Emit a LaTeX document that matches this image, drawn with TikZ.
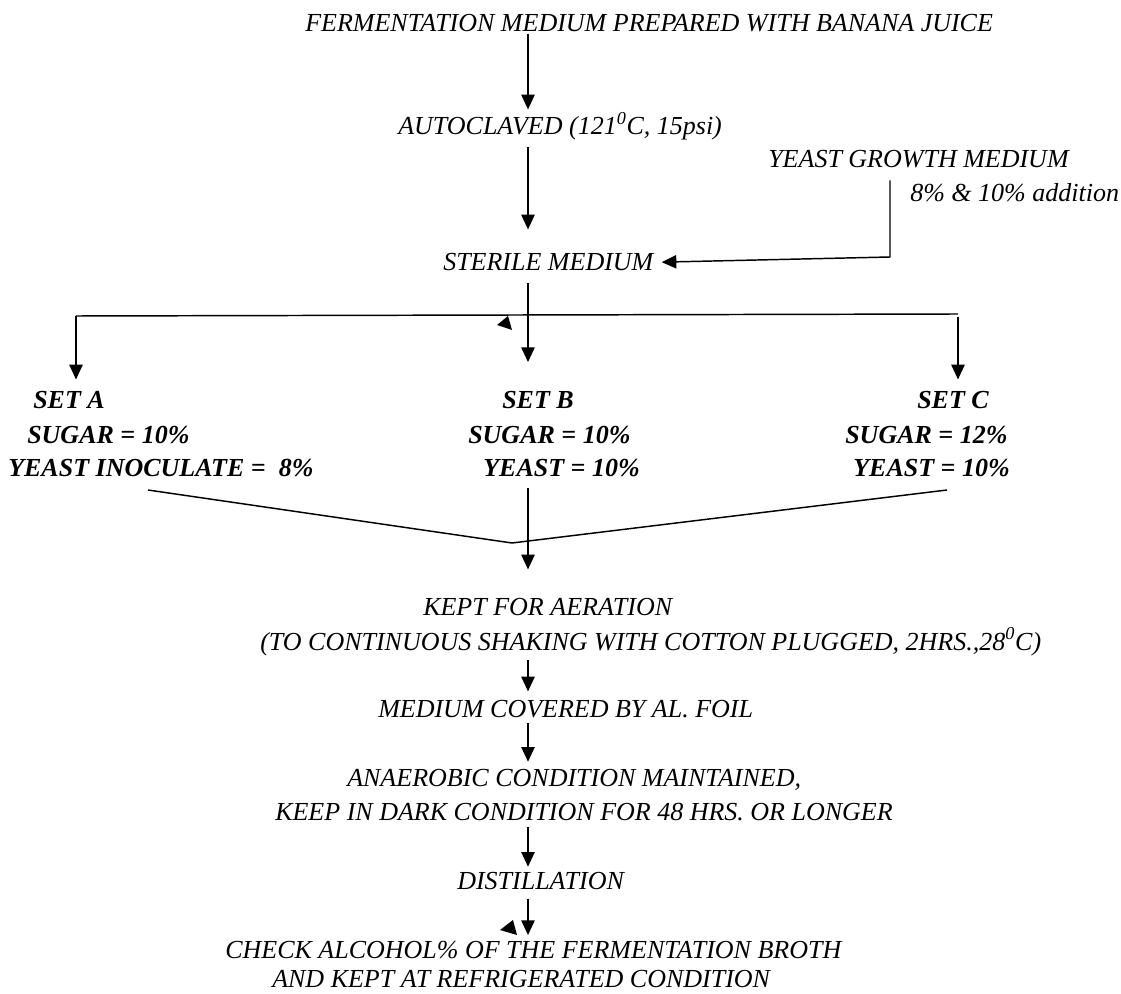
\documentclass[tikz,border=0pt]{standalone}
\usepackage{fontspec}
\setmainfont{Liberation Serif}
\usetikzlibrary{arrows.meta}

\tikzset{
    txt/.style={font=\itshape\fontsize{19.5}{23}\selectfont, inner sep=0pt, text height=13pt, text depth=0pt, anchor=base west},
    setline/.style={txt, font=\bfseries\itshape\fontsize{19.5}{23}\selectfont},
    ln/.style={line width=1.1pt},
    arr/.style={ln, -{Triangle[length=11pt,width=10pt]}, shorten <=6pt, shorten >=5pt}
}

\begin{document}
\begin{tikzpicture}[x=0.75pt,y=-0.75pt]
    \useasboundingbox (0,0) rectangle (1121,994);

    \node[txt] (title) at (305,32) {FERMENTATION MEDIUM PREPARED WITH BANANA JUICE};
    \node[txt] (auto) at (398,135) {AUTOCLAVED (121\textsuperscript{0}C, 15psi)};
    \node[txt] (yeastmed) at (768,168) {YEAST GROWTH MEDIUM};
    \node[txt] (addition) at (910,202) {8\% \& 10\% addition};
    \node[txt] (sterile) at (443,271) {STERILE MEDIUM};

    \node[setline] (setA) at (33,409) {SET A};
    \node[setline] (sugarA) at (27,444) {SUGAR = 10\%};
    \node[setline] (yeastA) at (8,477) {YEAST INOCULATE = \ 8\%};
    \node[setline] (setB) at (502,409) {SET B};
    \node[setline] (sugarB) at (468,444) {SUGAR = 10\%};
    \node[setline] (yeastB) at (483,477) {YEAST = 10\%};
    \node[setline] (setC) at (917,409) {SET C};
    \node[setline] (sugarC) at (845,444) {SUGAR = 12\%};
    \node[setline] (yeastC) at (853,477) {YEAST = 10\%};

    \node[txt] (aeration) at (423,615) {KEPT FOR AERATION};
    \node[txt] (shaking) at (260,650) {(TO CONTINUOUS SHAKING WITH COTTON PLUGGED, 2HRS.,28\textsuperscript{0}C)};
    \node[txt] (foil) at (378,717) {MEDIUM COVERED BY AL. FOIL};
    \node[txt] (anaerobic) at (347,786) {ANAEROBIC CONDITION MAINTAINED,};
    \node[txt] (dark) at (275,820) {KEEP IN DARK CONDITION FOR 48 HRS. OR LONGER};
    \node[txt] (distil) at (457,889) {DISTILLATION};
    \node[txt] (check) at (225,958) {CHECK ALCOHOL\% OF THE FERMENTATION BROTH};
    \node[txt] (fridge) at (272,987) {AND KEPT AT REFRIGERATED CONDITION};

    \coordinate (spine) at (528,0);
    \coordinate (bend) at (890,257);
    \coordinate (branchL) at (76,316);
    \coordinate (branchR) at (958,314);
    \coordinate (joinA) at (148,490);
    \coordinate (joinC) at (947,490);
    \coordinate (merge) at (512,543);

    \draw [arr, shorten <=1pt, shorten >=6pt](title.south -| spine) -- (auto.north -| spine);
    \draw [arr, shorten <=9pt, shorten >=18pt](auto.south -| spine) -- (sterile.north -| spine);
    \draw [arr, shorten <=9pt, shorten >=6pt](yeastmed.south -| bend) -- (bend) -- (sterile.east);

    \draw [arr, shorten <=9pt, shorten >=22pt](sterile.south -| spine) -- (setB.north -| spine);
    \draw [ln](branchR) -- (branchL);
    \draw [arr, shorten <=0pt, shorten >=9pt](branchL) -- (setA.north -| branchL);
    \draw [arr, shorten <=2pt, shorten >=9pt](branchR) -- (setC.north -| branchR);
    \fill (508,316) -- (497,325) -- (512,330) -- cycle;

    \draw [ln](joinA) -- (merge) -- (joinC);
    \draw [arr, shorten <=8pt, shorten >=21pt](yeastB.south -| spine) -- (aeration.north -| spine);

    \draw [arr, shorten <=7.5pt, shorten >=6pt](shaking.south -| spine) -- (foil.north -| spine);
    \draw [arr, shorten <=4.5pt](foil.south -| spine) -- (anaerobic.north -| spine);
    \draw [arr, shorten <=5pt, shorten >=3.5pt](dark.south -| spine) -- (distil.north -| spine);
    \draw [arr, shorten <=7pt, shorten >=4pt](distil.south -| spine) -- (check.north -| spine);
    \fill (513,920) -- (500,930) -- (517,935) -- cycle;
\end{tikzpicture}
\end{document}
